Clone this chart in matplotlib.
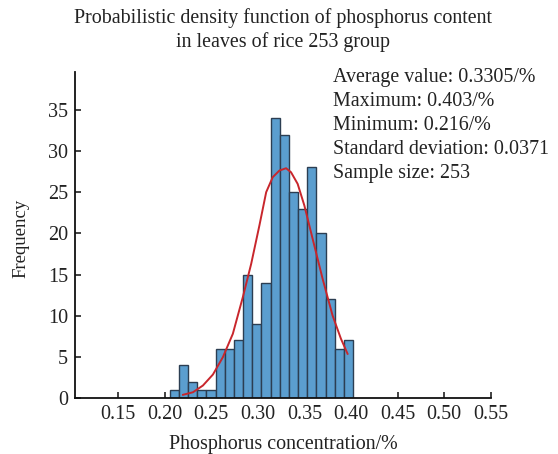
import numpy as np
import matplotlib
matplotlib.use("Agg")
import matplotlib.pyplot as plt

# ---- data ----
bin_start = 0.2054
bin_end = 0.4022
counts = [1, 4, 2, 1, 1, 6, 6, 7, 15, 9, 14, 34, 32, 25, 23, 28, 20, 12, 6, 7]

curve_x = [0.2196, 0.2303, 0.2410, 0.2517, 0.2624, 0.2731, 0.2838, 0.2928,
           0.3017, 0.3089, 0.3159, 0.3231, 0.3303, 0.3356, 0.3427, 0.3499,
           0.3588, 0.3695, 0.3802, 0.3892, 0.3963]
curve_y = [0.39, 0.70, 1.52, 2.85, 4.96, 7.80, 12.24, 16.30,
           21.0, 25.0, 26.82, 27.63, 27.91, 27.42, 26.01, 23.38,
           19.33, 14.48, 10.02, 7.19, 5.37]

xticks = [0.15, 0.20, 0.25, 0.30, 0.35, 0.40, 0.45, 0.50, 0.55]
yticks = [0, 5, 10, 15, 20, 25, 30, 35]

stats_lines = ["Average value: 0.3305/%",
               "Maximum: 0.403/%",
               "Minimum: 0.216/%",
               "Standard deviation: 0.0371",
               "Sample size: 253"]
title_lines = ["Probabilistic density function of phosphorus content",
               "in leaves of rice 253 group"]
xlabel = "Phosphorus concentration/%"
ylabel = "Frequency"

plt.rcParams['font.family'] = ['Liberation Serif', 'DejaVu Serif']
FS_STATS = 14.4
FS_TITLE = 14.4
FS_TICK = 14.5
FS_XLAB = 14.4
FS_YLAB = 13.5
TXT = '#222222'

fig = plt.figure(figsize=(5.58, 4.54), dpi=100)
W, H = 558, 454
ax_l, ax_r, ax_t, ax_b = 75, 490.7, 72, 398
ax = fig.add_axes([ax_l / W, 1 - ax_b / H, (ax_r - ax_l) / W, (ax_b - ax_t) / H])

edges = np.linspace(bin_start, bin_end, len(counts) + 1)
ax.bar(edges[:-1], counts, width=np.diff(edges), align='edge',
       color='#5b9ecf', edgecolor='#2c3e52', linewidth=1.0, zorder=2)
ax.plot(curve_x, curve_y, color='#c8262c', linewidth=1.4, zorder=3,
        solid_joinstyle='round')

ax.set_xlim(0.1036, 0.55)
ax.set_ylim(0, 39.6)
ax.set_xticks(xticks)
ax.set_xticklabels([f"{v:.2f}" for v in xticks])
ax.set_yticks(yticks)
ax.tick_params(direction='in', length=4, width=1.2, labelsize=FS_TICK, colors=TXT)
ax.tick_params(axis='y', pad=5)
ax.tick_params(axis='x', pad=5)
for s in ['top', 'right']:
    ax.spines[s].set_visible(False)
for s in ['left', 'bottom']:
    ax.spines[s].set_linewidth(1.3)
    ax.spines[s].set_color('#111111')

ax.set_xlabel(xlabel, fontsize=FS_XLAB, color=TXT)
ax.xaxis.set_label_coords(0.5, -0.113)
ax.set_ylabel(ylabel, fontsize=FS_YLAB, color=TXT)
ax.yaxis.set_label_coords(-0.11, 0.489)

# title
fig.text(282.5 / W, 1 - 23.3 / H, title_lines[0], ha='center', va='baseline',
         fontsize=FS_TITLE, color=TXT)
fig.text(282.5 / W, 1 - 46.7 / H, title_lines[1], ha='center', va='baseline',
         fontsize=FS_TITLE, color=TXT)

# stats text
for i, line in enumerate(stats_lines):
    fig.text(333.3 / W, 1 - (82 + 24 * i) / H, line, ha='left', va='baseline',
             fontsize=FS_STATS, color=TXT)

fig.savefig("out.png", dpi=100)
